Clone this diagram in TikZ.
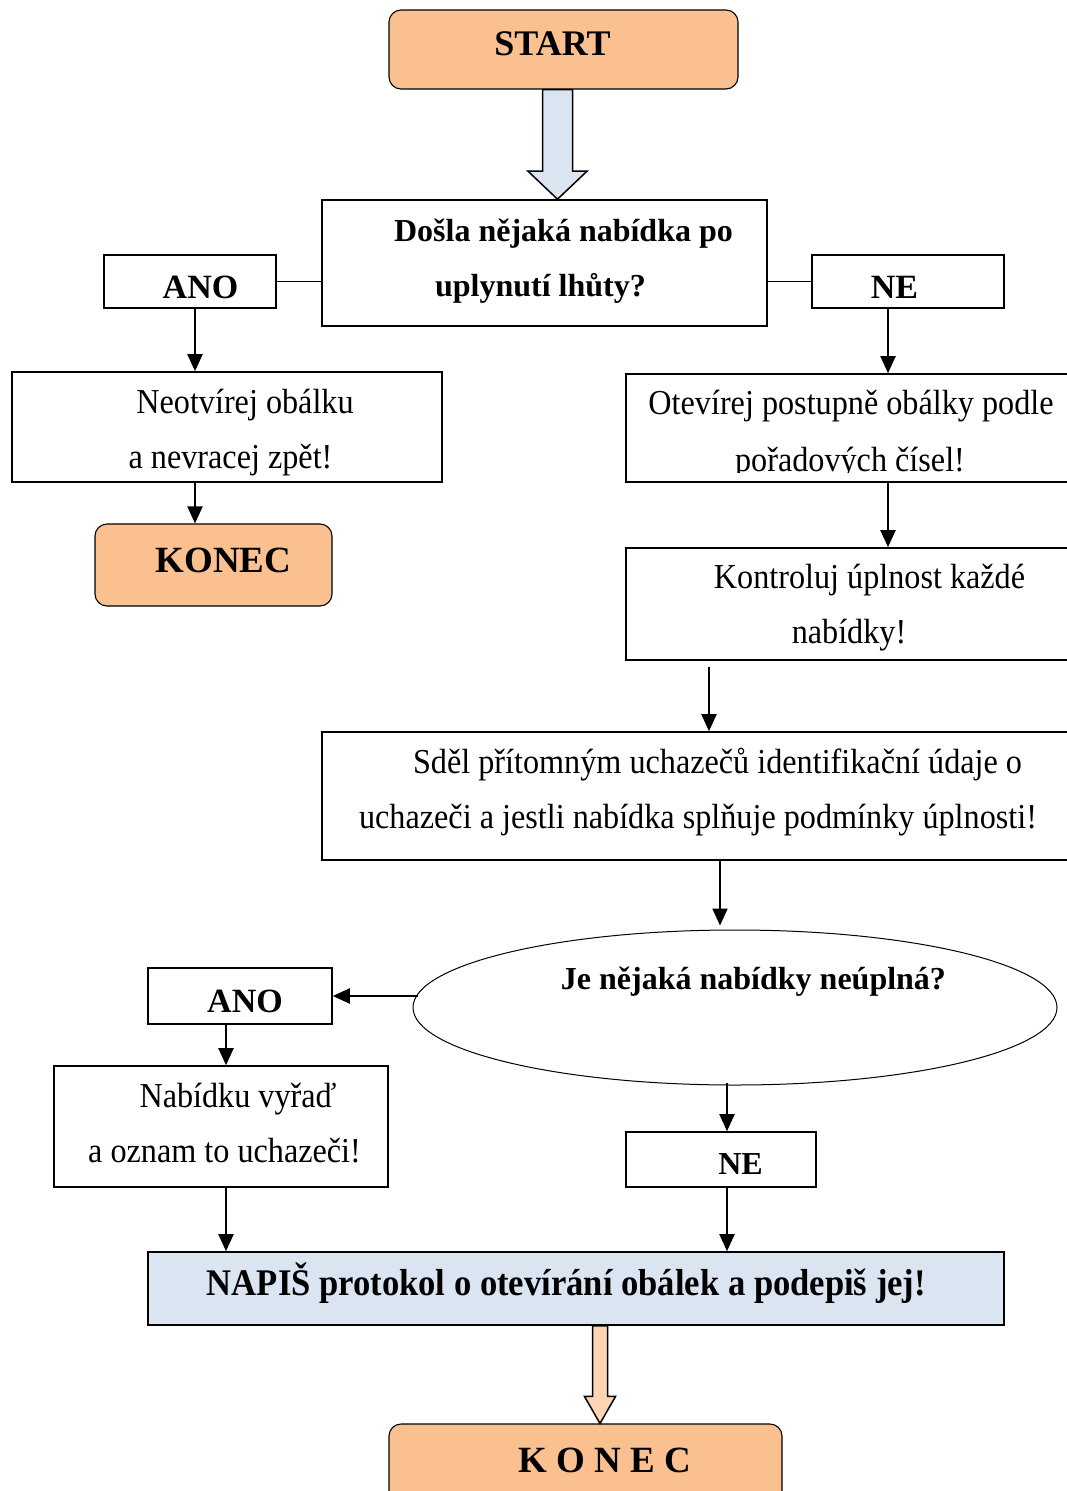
\documentclass[tikz,border=0pt]{standalone}
\usepackage{fontspec}
\setmainfont{Liberation Serif}
\newfontfamily\narrowserif{Liberation Serif}[FakeStretch=0.92]
\usetikzlibrary{arrows.meta,calc,shapes.geometric}
\definecolor{peach}{HTML}{FAC090}
\definecolor{lightpeach}{HTML}{FBD5B5}
\definecolor{paleblue}{HTML}{DBE5F1}

\tikzset{
  box/.style={draw, line width=1.6pt, inner sep=0pt},
  endbox/.style={draw, line width=1.1pt, rounded corners=12pt, fill=peach, inner sep=0pt},
  txt/.style={anchor=base, inner sep=0pt, font=\narrowserif\fontsize{35}{40}\selectfont},
  btxt/.style={anchor=base, inner sep=0pt, font=\bfseries\fontsize{32}{38}\selectfont},
  arr/.style={line width=2pt, -{Triangle[length=17pt,width=15pt]}},
  link/.style={line width=1.5pt},
  blockarrow/.style={draw, line width=1.5pt, line join=miter},
}

\begin{document}
\begin{tikzpicture}[x=1pt, y=-1pt]
\useasboundingbox (0,0) rectangle (1067,1491);
\clip (0,0) rectangle (1067,1491);

% ---- boxes ----
\node[endbox, minimum width=349, minimum height=79] (start) at (563.5,49.5) {};
\node[box, minimum width=445, minimum height=126] (q1) at (544.5,263) {};
\node[box, minimum width=172, minimum height=53] (ano1) at (190,281.5) {};
\node[box, minimum width=192, minimum height=53] (ne1) at (908,281.5) {};
\node[box, minimum width=430, minimum height=110] (neo) at (227,427) {};
\node[endbox, minimum width=237, minimum height=82] (konec1) at (213.5,565) {};
\node[box, minimum width=454, minimum height=108] (otev) at (853,428) {};
\node[box, minimum width=454, minimum height=112] (kontr) at (853,604) {};
\node[box, minimum width=758, minimum height=128] (sdel) at (701,796) {};
\node[draw, ellipse, line width=1pt, inner sep=0pt, minimum width=644, minimum height=155] (ell) at (735,1007.5) {};
\node[box, minimum width=184, minimum height=56] (ano2) at (240,996) {};
\node[box, minimum width=334, minimum height=121] (nab) at (221,1126.5) {};
\node[box, minimum width=190, minimum height=55] (ne2) at (721,1159.5) {};
\node[box, fill=paleblue, minimum width=856, minimum height=73] (napis) at (576,1288.5) {};
\node[endbox, minimum width=393, minimum height=86] (konec2) at (585.5,1467) {};

% ---- texts ----
\node[btxt, font=\bfseries\fontsize{36}{40}\selectfont] (tstart) at (552.5,55) {START};
\node[btxt] (tq1a) at (563.5,241) {Došla nějaká nabídka po};
\node[btxt] (tq1b) at (540.5,296) {uplynutí lhůty?};
\node[btxt, font=\bfseries\fontsize{34}{38}\selectfont] (tano1) at (200.5,298) {ANO};
\node[btxt, font=\bfseries\fontsize{34}{38}\selectfont] (tne1) at (894.5,298) {NE};
\node[txt] (tneoa) at (245,413) {Neotvírej obálku};
\node[txt] (tneob) at (230.5,468) {a nevracej zpět!};
\node[btxt, font=\bfseries\fontsize{37}{40}\selectfont] (tkonec1) at (223.5,572) {KONEC};
\node[txt] (tofa) at (851,414) {Otevírej postupně obálky podle};
\begin{scope}
  \clip (626,374) rectangle (1067,472);
  \node[txt] (tofb) at (850,471) {pořadových čísel!};
\end{scope}
\node[txt] (tkoa) at (869.5,588) {Kontroluj úplnost každé};
\node[txt] (tkob) at (849,643) {nabídky!};
\node[txt] (tsda) at (717.5,773) {Sděl přítomným uchazečů identifikační údaje o};
\node[txt] (tsdb) at (698,828) {uchazeči a jestli nabídka splňuje podmínky úplnosti!};
\node[btxt] (tell) at (753.5,989) {Je nějaká nabídky neúplná?};
\node[btxt, font=\bfseries\fontsize{34}{38}\selectfont] (tano2) at (245,1012) {ANO};
\node[txt] (tnaba) at (238,1107) {Nabídku vyřaď};
\node[txt] (tnabb) at (224.5,1162) {a oznam to uchazeči!};
\node[btxt] (tne2) at (740.5,1174) {NE};
\node[btxt, font=\narrowserif\bfseries\fontsize{37.6}{40}\selectfont] (tnapis) at (566.5,1295) {NAPIŠ protokol o otevírání obálek a podepiš jej!};
\node[btxt, font=\bfseries\fontsize{37}{40}\selectfont] (tkonec2) at (604.5,1472) {K O N E C};

% ---- column helpers for connector x positions ----
\coordinate (c195) at (195,0);
\coordinate (c888) at (888,0);
\coordinate (c709) at (709,0);
\coordinate (c720) at (720,0);
\coordinate (c418) at (418,0);
\coordinate (c226) at (226,0);
\coordinate (c727) at (727,0);

% ---- connectors ----
\draw[link] (ano1.east) -- (ano1.east -| q1.west);
\draw[link] (q1.east |- ne1.west) -- (ne1.west);
\draw[arr] (c195 |- ano1.south) -- (c195 |- neo.north);
\draw[arr] (c195 |- neo.south) -- (c195 |- konec1.north);
\draw[arr] (c888 |- ne1.south) -- (c888 |- otev.north);
\draw[arr] (c888 |- otev.south) -- (c888 |- kontr.north);
\draw[arr] ([yshift=-6pt]c709 |- kontr.south) -- (c709 |- sdel.north);
\draw[arr] (c720 |- sdel.south) -- ([yshift=4pt]c720 |- ell.north);
\draw[arr] (c418 |- ano2.east) -- (ano2.east);
\draw[arr] (c226 |- ano2.south) -- (c226 |- nab.north);
\draw[arr] ([yshift=3pt]c727 |- ell.south) -- (c727 |- ne2.north);
\draw[arr] (c226 |- nab.south) -- (c226 |- napis.north);
\draw[arr] (c727 |- ne2.south) -- (c727 |- napis.north);

% ---- block arrows ----
\path (start.south) ++(-6,0) coordinate (a1top);
\path (a1top |- q1.north) coordinate (a1tip);
\draw[blockarrow, fill=paleblue]
  ($(a1top)+(-15,0)$) -- ($(a1tip)+(-15,-28)$) -- ($(a1tip)+(-29.5,-28)$) -- (a1tip)
  -- ($(a1tip)+(29.5,-28)$) -- ($(a1tip)+(15,-28)$) -- ($(a1top)+(15,0)$) -- cycle;

\path (napis.south) ++(24,0) coordinate (a2top);
\path (a2top |- konec2.north) coordinate (a2tip);
\draw[blockarrow, fill=lightpeach]
  ($(a2top)+(-7.5,0)$) -- ($(a2tip)+(-7.5,-27)$) -- ($(a2tip)+(-15.5,-27)$) -- (a2tip)
  -- ($(a2tip)+(15.5,-27)$) -- ($(a2tip)+(7.5,-27)$) -- ($(a2top)+(7.5,0)$) -- cycle;
\end{tikzpicture}
\end{document}
